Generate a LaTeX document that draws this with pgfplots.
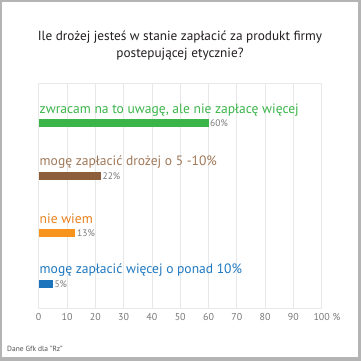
\documentclass[border=0pt]{standalone}
\usepackage{pgfplots}
\pgfplotsset{compat=1.18}
\usepackage{fontspec}
\setmainfont{PT Sans}
\definecolor{cgreen}{RGB}{59,181,74}
\definecolor{cbrown}{RGB}{140,94,60}
\definecolor{cbrownt}{RGB}{160,120,88}
\definecolor{corange}{RGB}{247,148,29}
\definecolor{coranget}{RGB}{232,128,28}
\definecolor{cblue}{RGB}{28,117,188}
\definecolor{cbluet}{RGB}{30,120,192}
\definecolor{framegray}{RGB}{180,180,180}
\definecolor{gridc}{RGB}{232,232,232}
\definecolor{tickc}{RGB}{120,120,120}
\definecolor{titlec}{RGB}{35,31,32}
\definecolor{footc}{RGB}{80,80,80}
\begin{document}
\begin{tikzpicture}[x=1bp,y=1bp]
\fill[framegray] (0,0) rectangle (361,361);
\fill[white] (2,4) rectangle (357.5,359);
\node[anchor=base,inner sep=0pt,font=\fontsize{13.3}{15}\selectfont,text=titlec] at (180,321) {Ile drożej jesteś w stanie zapłacić za produkt firmy};
\node[anchor=base,inner sep=0pt,font=\fontsize{13.3}{15}\selectfont,text=titlec] at (180,304) {postepującej etycznie?};
\node[anchor=base west,inner sep=0pt,font=\fontsize{7.5}{9}\selectfont,text=footc] at (7,10) {Dane Gfk dla "Rz"};
\begin{axis}[
  at={(38.7bp,53bp)}, anchor=south west,
  scale only axis, width=283bp, height=225bp,
  xmin=0, xmax=100, ymin=0, ymax=225,
  /pgf/number format/assume math mode=true,
  xbar, bar width=8bp, bar shift=0pt,
  ytick=\empty,
  xtick={0,10,...,100},
  xticklabels={0,10,20,30,40,50,60,70,80,90,100\rlap{ \%}},
  xmajorgrids, grid style={gridc, line width=0.8bp},
  axis line style={gridc, line width=0.8bp},
  major tick length=0pt,
  tick label style={font=\fontsize{10}{12}\selectfont, text=tickc},
  xticklabel style={yshift=-2bp},
  clip=false,
  point meta=x,
  nodes near coords={\pgfmathprintnumber{\pgfplotspointmeta}\%},
  nodes near coords style={anchor=west, inner sep=1.5bp, font=\fontsize{9.5}{11}\selectfont, text=tickc},
]
\addplot[fill=cgreen, draw=none] coordinates {(60,185)};
\addplot[fill=cbrown, draw=none] coordinates {(22,132.2)};
\addplot[fill=corange, draw=none] coordinates {(13,75)};
\addplot[fill=cblue, draw=none] coordinates {(5,24.2)};
\node[anchor=base west,inner sep=0pt,text=cgreen,font=\fontsize{13.6}{16}\selectfont] at (axis cs:0.3,194) {zwracam na to uwagę, ale nie zapłacę więcej};
\node[anchor=base west,inner sep=0pt,text=cbrownt,font=\fontsize{13.6}{16}\selectfont] at (axis cs:0.3,142) {mogę zapłacić drożej o 5 -10\%};
\node[anchor=base west,inner sep=0pt,text=coranget,font=\fontsize{13.6}{16}\selectfont] at (axis cs:0.3,84) {nie wiem};
\node[anchor=base west,inner sep=0pt,text=cbluet,font=\fontsize{13.6}{16}\selectfont] at (axis cs:0.3,34.7) {mogę zapłacić więcej o ponad 10\%};
\end{axis}
\end{tikzpicture}
\end{document}
